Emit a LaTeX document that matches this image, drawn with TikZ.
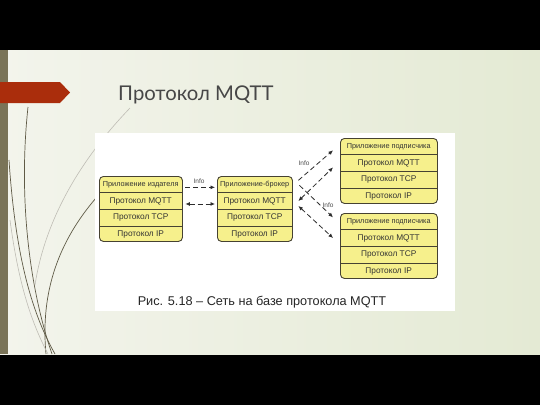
\documentclass[tikz,border=0pt]{standalone}
\usepackage{fontspec}
\setmainfont{Liberation Sans}
\newfontfamily\titlefont{Lato}
\usetikzlibrary{arrows.meta,calc}
\definecolor{slideL}{RGB}{243,244,236}
\definecolor{slideR}{RGB}{228,234,212}
\definecolor{strip}{RGB}{122,116,88}
\definecolor{redarrow}{RGB}{170,45,12}
\definecolor{boxfill}{RGB}{246,240,140}
\definecolor{boxline}{RGB}{70,66,50}
\definecolor{arrowc}{RGB}{45,45,45}
\definecolor{curvec}{RGB}{95,90,70}
\tikzset{
  stackbox/.style={draw=boxline, fill=boxfill, line width=0.9pt, rounded corners=4pt,
    minimum height=65pt, inner sep=0pt, anchor=north west},
  rowcell/.style={inner sep=0pt, minimum height=16.25pt, text=black!80},
  infoarrow/.style={draw=arrowc, line width=0.8pt, dash pattern=on 5pt off 3pt,
    -{Latex[length=4.5pt,width=4pt]}},
  infoboth/.style={infoarrow, {Latex[length=4.5pt,width=4pt]}-{Latex[length=4.5pt,width=4pt]}},
  infolabel/.style={font=\fontsize{6.5}{7}\selectfont, text=black!70, inner sep=0pt},
  deco/.style={draw=curvec, line width=0.7pt},
  decolight/.style={draw=curvec!40, line width=0.6pt}
}
\newcommand\layerstack[5]{%
  \node[stackbox, minimum width=#4pt] (#1) at (#2,#3) {};
  \node[rowcell, minimum width=#4pt, anchor=north west, font=\fontsize{7.3}{8}\selectfont] (#1-a) at (#2,#3) {#5};
  \node[rowcell, minimum width=#4pt, anchor=north, font=\fontsize{8.3}{9}\selectfont] (#1-b) at (#1-a.south) {Протокол MQTT};
  \node[rowcell, minimum width=#4pt, anchor=north, font=\fontsize{8.3}{9}\selectfont] (#1-c) at (#1-b.south) {Протокол TCP};
  \node[rowcell, minimum width=#4pt, anchor=north, font=\fontsize{8.3}{9}\selectfont] (#1-d) at (#1-c.south) {Протокол IP};
  \draw[boxline, line width=0.8pt] (#1-a.south west) -- (#1-a.south east);
  \draw[boxline, line width=0.8pt] (#1-b.south west) -- (#1-b.south east);
  \draw[boxline, line width=0.8pt] (#1-c.south west) -- (#1-c.south east);
}
\begin{document}
\begin{tikzpicture}[x=1pt,y=-1pt]
\useasboundingbox (0,0) rectangle (540,405);
\fill[black] (0,0) rectangle (540,405);
\shade[left color=slideL, right color=slideR] (0,50) rectangle (540,354);
\fill[strip] (0,50) rectangle (8,354);
% decorative curves
\begin{scope}
\clip (0,50) rectangle (540,354);
\draw[deco] (28,107) .. controls (18,200) and (30,290) .. (52,354);
\draw[deco] (9,160) .. controls (15,250) and (30,310) .. (55,354);
\draw[deco] (96,198) .. controls (60,240) and (40,290) .. (46,354);
\draw[decolight] (130,108) .. controls (80,160) and (45,220) .. (35,285);
\draw[decolight] (10,220) .. controls (18,280) and (30,320) .. (48,354);
\end{scope}
% red arrow
\fill[redarrow] (0,82) -- (60,82) -- (70,92.5) -- (60,103) -- (0,103) -- cycle;
% title
\node[anchor=base west, inner sep=0pt, font=\titlefont\fontsize{20.3}{24}\selectfont, text=black!72] (title) at (118,100) {Протокол MQTT};
% figure area
\fill[white] (95,133) rectangle (455,311);
\layerstack{pub}{99}{176}{83}{Приложение издателя}
\layerstack{brk}{217}{176}{75}{Приложение-брокер}
\layerstack{subA}{340}{138}{97}{Приложение подписчика}
\layerstack{subB}{340}{213}{97}{Приложение подписчика}
% arrows
\draw[infoarrow] ([shift={(3,3)}]pub-a.east) -- ([shift={(-2,3)}]brk-a.west);
\draw[infoboth] ([shift={(3,3)}]pub-b.east) -- ([shift={(-2,3)}]brk-b.west);
\draw[infoarrow] ([shift={(6,-4)}]brk-a.east) -- ([shift={(-7,4)}]subA-a.west);
\draw[infoboth] ([shift={(6,0)}]brk-b.east) -- ([shift={(-7,4.5)}]subA-b.west);
\draw[infoarrow] ([shift={(7,1)}]brk-a.east) -- ([shift={(-7,-4)}]subB-a.west);
\draw[infoboth] ([shift={(6,5)}]brk-b.east) -- ([shift={(-7,0)}]subB-b.west);
\node[infolabel] (info1) at (199,181) {Info};
\node[infolabel] (info2) at (304,163) {Info};
\node[infolabel] (info3) at (328,205) {Info};
% caption
\node[inner sep=0pt, font=\fontsize{12.7}{14}\selectfont, text=black!85] (caption) at (262,302) {Рис. 5.18 – Сеть на базе протокола MQTT};
\end{tikzpicture}
\end{document}
